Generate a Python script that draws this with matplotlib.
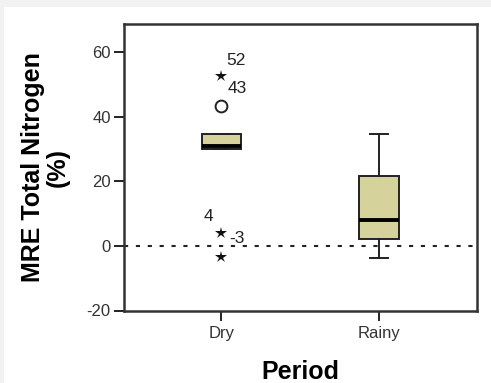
import matplotlib.pyplot as plt
from matplotlib.patches import Rectangle

plt.rcParams['font.family'] = ['Liberation Sans', 'DejaVu Sans']
plt.rcParams['axes.unicode_minus'] = False

# values
periods = ['Dry', 'Rainy']
whislo = [30.2, -3.6]
q1 = [30.2, 2.1]
med = [30.9, 8.1]
q3 = [34.8, 21.6]
whishi = [34.8, 34.8]

# outliers for the dry period
dry_out_vals = [52.6, 43.4, 4.1, -3.3]
dry_out_kind = ['extreme', 'outlier', 'extreme', 'extreme']
dry_out_labels = ['52', '43', '4', '-3']

box_color = '#d6d29c'

fig = plt.figure(figsize=(4.91, 3.83), dpi=100)
fig.patch.set_facecolor('#f2f2f2')
fig.patches.append(Rectangle((4 / 491, 0), 1, 1 - 7 / 383,
                             transform=fig.transFigure, facecolor='white',
                             edgecolor='none', zorder=-5))

ax = fig.add_axes([124 / 491, 1 - 310.5 / 383, 353 / 491, 286.5 / 383])
ax.set_facecolor('white')

stats = []
for i in range(len(periods)):
    stats.append({'label': periods[i], 'whislo': whislo[i], 'q1': q1[i],
                  'med': med[i], 'q3': q3[i], 'whishi': whishi[i],
                  'fliers': []})

ax.bxp(stats, positions=[1, 2], widths=0.25, patch_artist=True,
       showfliers=False,
       boxprops=dict(facecolor=box_color, edgecolor='#222222', linewidth=1.4),
       medianprops=dict(color='black', linewidth=2.8),
       whiskerprops=dict(color='#222222', linewidth=1.4),
       capprops=dict(color='#222222', linewidth=1.4),
       capwidths=0.11)

ax.axhline(0, color='#222222', linestyle=(0, (2, 3.7)), linewidth=1.5,
           zorder=1)

for v, k in zip(dry_out_vals, dry_out_kind):
    if k == 'extreme':
        ax.plot(1, v, marker='*', markersize=9, color='#111111',
                markeredgewidth=0, linestyle='none')
    else:
        ax.plot(1, v, marker='o', markersize=8.5, markerfacecolor='white',
                markeredgecolor='#222222', markeredgewidth=1.4,
                linestyle='none')

label_offsets = [(0.033, 4.8), (0.04, 5.3), (-0.112, 5.0), (0.05, 5.6)]
for v, lab, (dx, dy) in zip(dry_out_vals, dry_out_labels, label_offsets):
    ax.text(1 + dx, v + dy, lab, fontsize=12.5, color='#222222',
            ha='left', va='center')

ax.set_xlim(0.383, 2.62)
ax.set_ylim(-20, 68.8)
ax.set_yticks([-20, 0, 20, 40, 60])
ax.set_xticks([1, 2])
ax.set_xticklabels(periods)
ax.tick_params(axis='both', labelsize=12, colors='#222222', length=7.5,
               width=1.4, labelcolor='#333333', pad=2)
ax.tick_params(axis='x', pad=4)

for s in ax.spines.values():
    s.set_linewidth(1.8)
    s.set_color('#333333')

ax.set_ylabel('MRE Total Nitrogen\n(%)', fontsize=18, fontweight='bold',
              linespacing=1.05)
ax.yaxis.set_label_coords(-0.153, 0.5)
ax.set_xlabel('Period', fontsize=18, fontweight='bold')
ax.xaxis.set_label_coords(0.4986, -0.174)

fig.savefig('out.png', dpi=100, facecolor=fig.get_facecolor())
